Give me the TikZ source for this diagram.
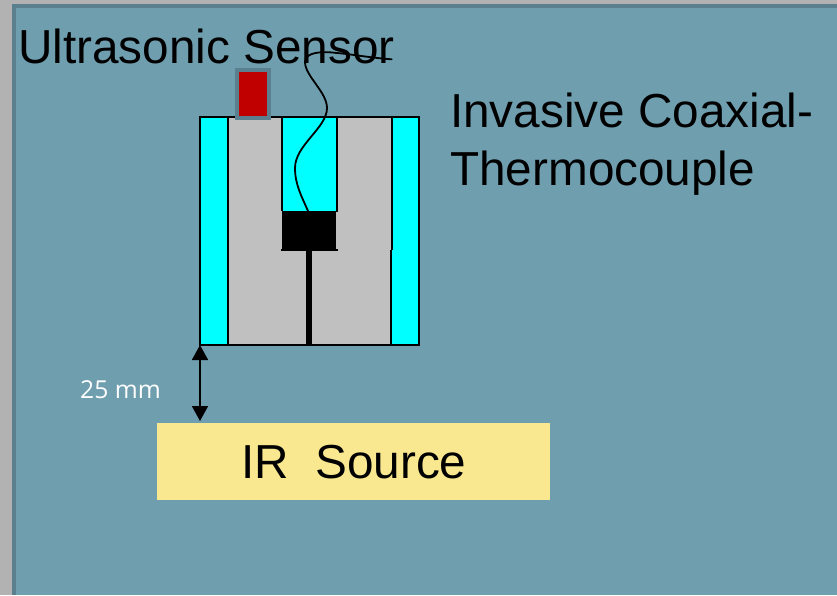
\documentclass[tikz,border=0pt]{standalone}
\usepackage{fontspec}
\setmainfont{Liberation Sans}
\newfontfamily\labelfont{Open Sans}
\usetikzlibrary{arrows.meta}
\definecolor{pagegray}{HTML}{B2B2B2}
\definecolor{panel}{HTML}{6F9EAF}
\definecolor{panelrim}{HTML}{5A7F8E}
\definecolor{cyanfill}{HTML}{00FFFF}
\definecolor{bodygray}{HTML}{C0C0C0}
\definecolor{sensorred}{HTML}{C00000}
\definecolor{sourceyellow}{HTML}{F9E88F}
\tikzset{
  bigtext/.style={font=\fontsize{47.7}{54}\selectfont,text=black,inner sep=0pt,anchor=base west},
  part/.style={draw=black,line width=2pt},
  wire/.style={draw=black,line width=1.8pt,line cap=round},
  dim/.style={draw=black,line width=1.7pt,{Triangle[length=15pt,width=16pt]}-{Triangle[length=15pt,width=16pt]}}
}
\begin{document}
\begin{tikzpicture}[x=1pt,y=-1pt]
\useasboundingbox (0,0) rectangle (837,595);
% slide background
\fill[pagegray] (0,0) rectangle (837,595);
\fill[panelrim] (12,4) rectangle (837,595);
\fill[panel] (16,8) rectangle (837,595);
% housing
\fill[bodygray] (200,117) rectangle (419,345);
\fill[cyanfill] (200,117) rectangle (228,345);
\fill[cyanfill] (391,117) rectangle (419,345);
\fill[cyanfill] (282,117) rectangle (337,211);
\fill[black] (282,211) rectangle (336,250);
\draw[black,line width=1.3pt] (281,250) -- (338,250);
\fill[black] (306,250) rectangle (312,345);
\draw[part] (228,117) -- (228,345);
\draw[part] (391.5,117) -- (391.5,250) (390.5,250) -- (390.5,345);
\draw[part] (282,117) -- (282,211);
\draw[part] (337,117) -- (337,212);
\draw[part] (200,117) rectangle (419,345);
% ultrasonic sensor
\node[draw=panelrim,line width=4pt,fill=sensorred,minimum width=32pt,minimum height=48pt,inner sep=0pt,anchor=north west] (sensor) at (235,68) {};
% labels
\node[bigtext] (ultra) at (18,63) {Ultrasonic Sensor};
\node[bigtext] (inv1) at (450,127) {Invasive Coaxial-};
\node[bigtext] (inv2) at (450,185) {Thermocouple};
% IR source
\node[fill=sourceyellow,minimum width=393pt,minimum height=77pt,inner sep=0pt,anchor=north west] (source) at (157,423) {};
\node[bigtext] (irtext) at (241,478) {IR\ \ Source};
% thermocouple wire
\coordinate (wireend) at (391.7,59.3);
\coordinate (wirejunction) at (308,211);
\draw[wire] (wireend) .. controls (372,58) and (350,54) .. (337,53)
  .. controls (322,51) and (305,52) .. (305,62)
  .. controls (305,76) and (327,92) .. (327,108)
  .. controls (327,128) and (295,145) .. (295,168)
  .. controls (295,185) and (302,197) .. (wirejunction);
% distance
\coordinate (dimtop) at (200,345);
\coordinate (dimbot) at (200,421);
\draw[dim] (dimtop) -- (dimbot);
\node[font=\labelfont\fontsize{24.7}{28}\selectfont,text=white,inner sep=0pt,anchor=base west] (dist) at (80,398) {25 mm};
\end{tikzpicture}
\end{document}
